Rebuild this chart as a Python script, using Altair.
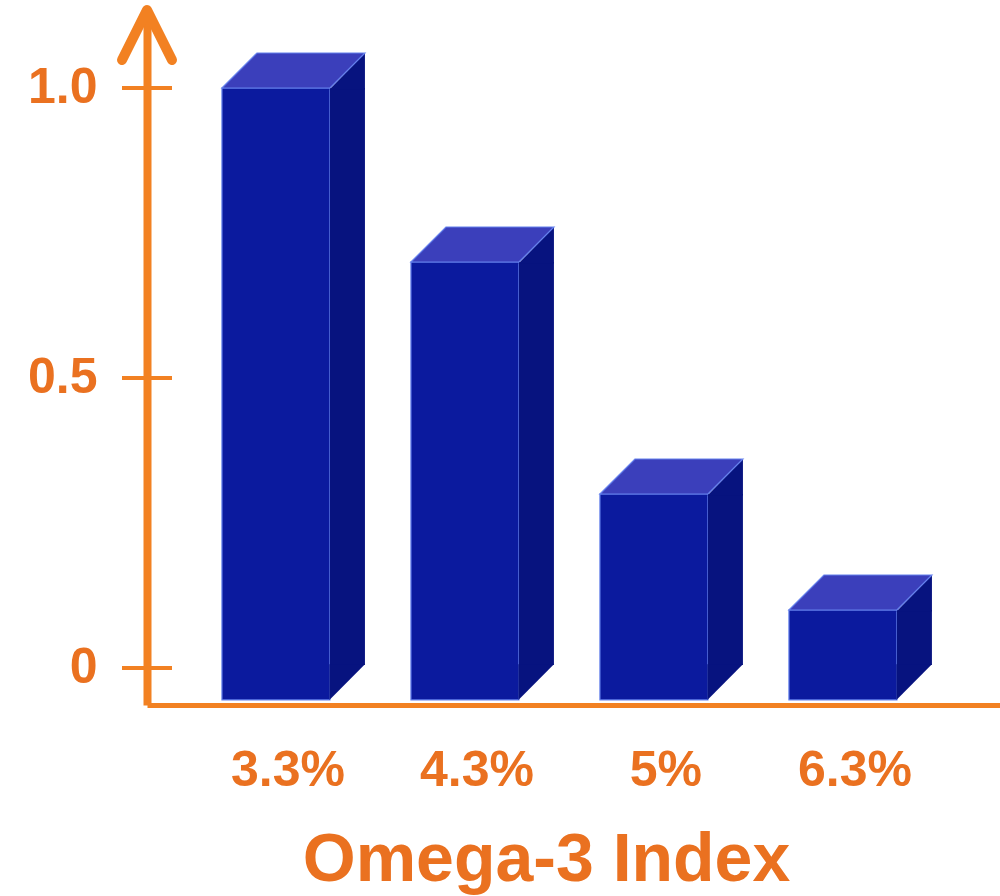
import altair as alt
import pandas as pd

# ---- data ----
categories = ["3.3%", "4.3%", "5%", "6.3%"]
values = [1.0, 0.7, 0.3, 0.1]
tick_values = [0, 0.5, 1.0]
x_title = "Omega-3 Index"

bars = pd.DataFrame({"cat": categories, "value": values})
ticks = pd.DataFrame({"t": tick_values})

ORANGE_LINE = "#f28122"
ORANGE_TEXT = "#ea7120"
FRONT = "#0b1a9e"
TOP = "#3b3fbb"
SIDE = "#07137f"
EDGE = "#6480ec"
FONT = "Liberation Sans"

BAR_FLOOR = -0.055      # bars stand on the x-axis line, a little below the 0 tick
SIDE_FLOOR = 0.005      # back-bottom edge of the side face

yscale = alt.Scale(domain=[-0.0638, 1.12586], nice=False, zero=False)
xscale = alt.Scale(paddingInner=0.4286, paddingOuter=0.471, align=0.421)

yaxis = alt.Axis(
    values=tick_values,
    labelExpr="datum.value == 0 ? '0' : format(datum.value, '.1f')",
    domainColor=ORANGE_LINE, domainWidth=8,
    ticks=False, tickSize=0, grid=False,
    labelColor=ORANGE_TEXT, labelFont=FONT, labelFontSize=50,
    labelFontWeight="bold", labelPadding=50, labelBaseline="middle",
    title=None,
)
xaxis = alt.Axis(
    domainColor=ORANGE_LINE, domainWidth=5,
    ticks=False, tickSize=0, grid=False, labelAngle=0,
    labelColor=ORANGE_TEXT, labelFont=FONT, labelFontSize=50,
    labelFontWeight="bold", labelPadding=40, labelBaseline="top",
    labelOffset=12,
    title=x_title, titleColor=ORANGE_TEXT, titleFont=FONT,
    titleFontSize=68, titleFontWeight="bold", titleX=399, titleY=175,
    titleAlign="center", titleBaseline="alphabetic",
)

X = alt.X("cat:N", sort=categories, scale=xscale, axis=xaxis)
Y = alt.Y("value:Q", scale=yscale, axis=yaxis)

base = alt.Chart(bars)

front = base.mark_bar(color=FRONT, stroke=EDGE, strokeWidth=1.2).encode(
    x=X, y=Y, y2=alt.datum(BAR_FLOOR)
)

side_rect = base.mark_bar(color=SIDE, width=35, xOffset=71.5).encode(
    x=X, y=Y, y2=alt.datum(SIDE_FLOOR)
)

# upper triangle of side face (anchored at the bar's front-top centre)
side_top = base.mark_point(
    shape="M 0.99 0.03 L 1.648 -0.648 L 1.648 0.03 Z",
    filled=True, fill=SIDE, size=11664, opacity=1, strokeWidth=0,
).encode(x=X, y=Y)

# lower triangle of side face (anchored at the bar's base)
side_bottom = base.mark_point(
    shape="M 0.99 -0.66 L 1.648 -0.66 L 0.99 0 Z",
    filled=True, fill=SIDE, size=11664, opacity=1, strokeWidth=0,
).encode(x=X, y=alt.Y(datum=BAR_FLOOR))

top_face = base.mark_point(
    shape="M -1 0 L -0.352 -0.648 L 1.648 -0.648 L 1 0 Z",
    filled=True, fill=TOP, size=11664, opacity=1, stroke=EDGE, strokeWidth=1.2,
).encode(x=X, y=Y)

tick_rules = alt.Chart(ticks).mark_rule(color=ORANGE_LINE, strokeWidth=4).encode(
    y=alt.Y("t:Q", scale=yscale, axis=yaxis),
    x=alt.value(-25), x2=alt.value(25),
)

arrow = alt.Chart(alt.Data(values=[{"a": 1}])).mark_point(
    shape="M -1 1.8 L 0 -0.2 L 1 1.8",
    filled=False, stroke=ORANGE_LINE, strokeWidth=10, size=2500, opacity=1,
    strokeJoin="round", strokeCap="round",
).encode(x=alt.value(0), y=alt.value(0))

chart = alt.layer(
    front, side_rect, side_top, side_bottom, top_face, tick_rules, arrow
).properties(
    width=853, height=690,
    padding={"left": 147, "top": 15, "right": 0, "bottom": 191},
    autosize=alt.AutoSizeParams(type="none"),
    background="white",
).configure_view(stroke=None)

chart.save("out.html", embed_options={"renderer": "svg", "actions": False})
